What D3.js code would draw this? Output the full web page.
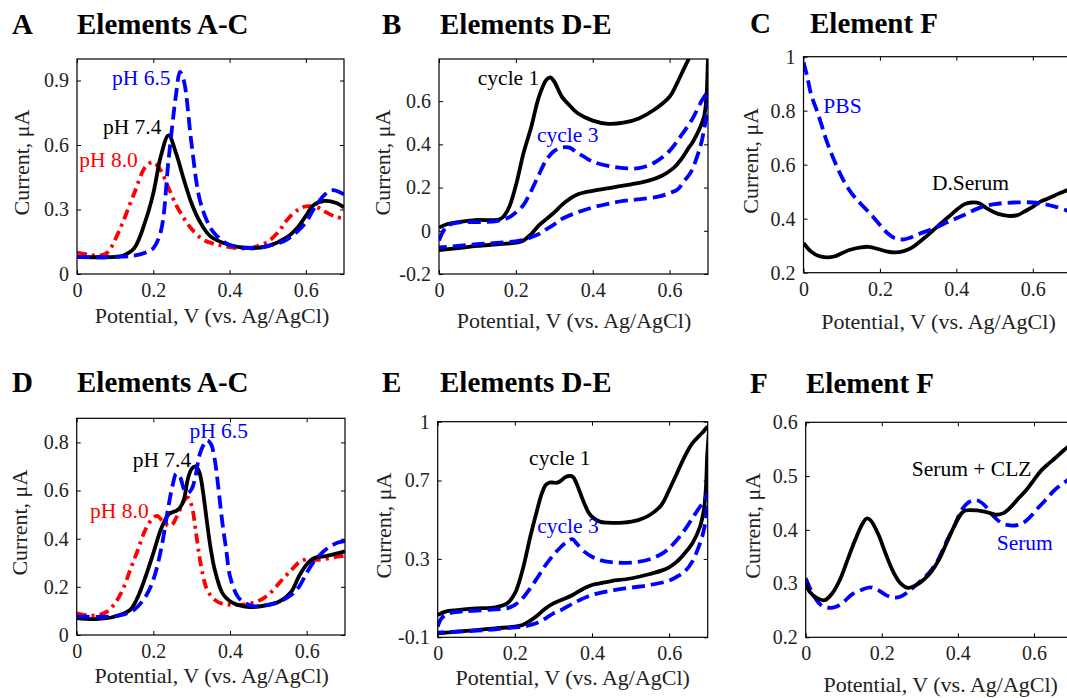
<!DOCTYPE html>
<html><head><meta charset="utf-8">
<script src="https://cdn.jsdelivr.net/npm/d3@7"></script>
</head>
<body style="margin:0">
<svg id="chart" width="1067" height="698"></svg>
<script>
// ---------- DATA (V, µA) ----------
const xTicks = [0, 0.2, 0.4, 0.6];

// Panel A
const A_pH65 = [[0,0.08],[0.05,0.078],[0.1,0.08],[0.15,0.085],[0.18,0.1],[0.2,0.12],[0.22,0.2],[0.24,0.53],[0.26,0.84],[0.27,0.94],[0.28,0.9],[0.3,0.61],[0.32,0.36],[0.34,0.25],[0.36,0.19],[0.4,0.135],[0.45,0.122],[0.5,0.13],[0.55,0.16],[0.6,0.24],[0.62,0.3],[0.65,0.37],[0.67,0.39],[0.7,0.37]];
const A_pH74 = [[0,0.08],[0.05,0.078],[0.1,0.08],[0.12,0.085],[0.15,0.12],[0.18,0.25],[0.2,0.375],[0.22,0.55],[0.24,0.645],[0.26,0.56],[0.28,0.44],[0.3,0.33],[0.32,0.25],[0.35,0.175],[0.4,0.135],[0.45,0.12],[0.5,0.13],[0.55,0.17],[0.58,0.22],[0.6,0.27],[0.62,0.32],[0.65,0.34],[0.68,0.33],[0.7,0.31]];
const A_pH80 = [[0,0.1],[0.03,0.09],[0.06,0.085],[0.08,0.1],[0.1,0.16],[0.12,0.24],[0.15,0.375],[0.18,0.5],[0.2,0.52],[0.22,0.48],[0.24,0.4],[0.26,0.32],[0.28,0.26],[0.3,0.21],[0.33,0.16],[0.36,0.14],[0.4,0.125],[0.45,0.12],[0.5,0.15],[0.53,0.2],[0.55,0.25],[0.58,0.3],[0.6,0.315],[0.63,0.31],[0.65,0.29],[0.68,0.265],[0.7,0.26]];

// Panel B (cyclic voltammograms: forward then reverse)
const B_cycle1 = [[0,0.015],[0.02,0.03],[0.05,0.04],[0.1,0.05],[0.16,0.055],[0.18,0.1],[0.2,0.21],[0.22,0.36],[0.24,0.48],[0.26,0.62],[0.28,0.7],[0.29,0.71],[0.3,0.69],[0.32,0.62],[0.34,0.58],[0.36,0.545],[0.4,0.51],[0.44,0.495],[0.48,0.5],[0.52,0.52],[0.56,0.56],[0.6,0.62],[0.62,0.685],[0.64,0.76],[0.66,0.83],[0.68,0.9],[0.7,0.97],
  [0.699,0.75],[0.696,0.62],[0.69,0.53],[0.68,0.48],[0.66,0.41],[0.65,0.385],[0.63,0.33],[0.61,0.29],[0.58,0.255],[0.53,0.225],[0.5,0.215],[0.45,0.2],[0.4,0.185],[0.36,0.168],[0.34,0.148],[0.32,0.12],[0.3,0.085],[0.28,0.055],[0.26,0.025],[0.24,-0.015],[0.22,-0.045],[0.2,-0.055],[0.15,-0.063],[0.1,-0.07],[0.05,-0.08],[0,-0.09]];
const B_cycle3 = [[0,-0.045],[0.02,0.02],[0.05,0.038],[0.1,0.04],[0.15,0.045],[0.18,0.06],[0.2,0.085],[0.22,0.12],[0.24,0.185],[0.26,0.26],[0.28,0.33],[0.3,0.37],[0.32,0.385],[0.34,0.385],[0.36,0.36],[0.38,0.34],[0.4,0.32],[0.44,0.3],[0.48,0.29],[0.52,0.29],[0.56,0.315],[0.6,0.37],[0.63,0.44],[0.66,0.52],[0.68,0.59],[0.69,0.62],[0.7,0.64],
  [0.698,0.56],[0.69,0.47],[0.68,0.39],[0.655,0.27],[0.64,0.235],[0.62,0.19],[0.6,0.175],[0.576,0.16],[0.524,0.146],[0.48,0.138],[0.44,0.125],[0.4,0.108],[0.36,0.085],[0.32,0.055],[0.3,0.03],[0.28,0.008],[0.26,-0.015],[0.24,-0.03],[0.21,-0.046],[0.15,-0.056],[0.1,-0.062],[0.05,-0.07],[0,-0.077]];

// Panel C
const C_PBS = [[0,0.98],[0.01,0.925],[0.02,0.86],[0.04,0.78],[0.06,0.69],[0.08,0.617],[0.1,0.555],[0.12,0.506],[0.14,0.47],[0.16,0.44],[0.18,0.41],[0.2,0.377],[0.22,0.346],[0.24,0.327],[0.26,0.323],[0.28,0.33],[0.3,0.342],[0.34,0.364],[0.38,0.389],[0.42,0.414],[0.46,0.44],[0.5,0.454],[0.55,0.46],[0.6,0.46],[0.63,0.454],[0.66,0.444],[0.69,0.43],[0.7,0.425]];
const C_DSerum = [[0,0.31],[0.02,0.278],[0.04,0.262],[0.06,0.257],[0.08,0.26],[0.1,0.272],[0.12,0.284],[0.15,0.294],[0.17,0.296],[0.2,0.286],[0.22,0.278],[0.24,0.275],[0.26,0.279],[0.28,0.29],[0.3,0.31],[0.32,0.333],[0.34,0.358],[0.36,0.383],[0.38,0.407],[0.4,0.432],[0.42,0.453],[0.44,0.46],[0.46,0.457],[0.48,0.438],[0.5,0.423],[0.52,0.414],[0.54,0.41],[0.56,0.413],[0.58,0.428],[0.6,0.444],[0.62,0.463],[0.64,0.475],[0.66,0.488],[0.68,0.5],[0.7,0.51]];

// Panel D
const D_pH65 = [[0,0.077],[0.05,0.075],[0.1,0.078],[0.12,0.084],[0.15,0.105],[0.18,0.16],[0.2,0.23],[0.22,0.355],[0.24,0.54],[0.25,0.62],[0.26,0.67],[0.27,0.655],[0.28,0.606],[0.29,0.59],[0.3,0.606],[0.31,0.66],[0.32,0.745],[0.33,0.787],[0.34,0.808],[0.35,0.794],[0.36,0.73],[0.37,0.606],[0.38,0.467],[0.39,0.355],[0.4,0.244],[0.42,0.16],[0.44,0.132],[0.46,0.12],[0.5,0.125],[0.53,0.139],[0.56,0.167],[0.58,0.2],[0.6,0.258],[0.62,0.307],[0.65,0.355],[0.68,0.383],[0.7,0.39]];
const D_pH74 = [[0,0.07],[0.05,0.066],[0.1,0.077],[0.14,0.105],[0.16,0.16],[0.18,0.244],[0.2,0.34],[0.22,0.44],[0.24,0.502],[0.25,0.51],[0.26,0.516],[0.27,0.53],[0.28,0.565],[0.29,0.648],[0.3,0.69],[0.31,0.7],[0.32,0.676],[0.33,0.59],[0.34,0.467],[0.35,0.355],[0.36,0.272],[0.38,0.174],[0.4,0.14],[0.42,0.125],[0.45,0.116],[0.5,0.125],[0.53,0.14],[0.56,0.18],[0.58,0.244],[0.6,0.293],[0.62,0.32],[0.65,0.328],[0.68,0.339],[0.7,0.348]];
const D_pH80 = [[0,0.09],[0.03,0.081],[0.06,0.084],[0.08,0.098],[0.1,0.132],[0.12,0.188],[0.14,0.272],[0.16,0.355],[0.18,0.44],[0.2,0.488],[0.21,0.495],[0.22,0.48],[0.23,0.467],[0.24,0.453],[0.25,0.46],[0.26,0.488],[0.27,0.523],[0.28,0.557],[0.29,0.571],[0.3,0.537],[0.31,0.44],[0.32,0.328],[0.33,0.244],[0.34,0.188],[0.36,0.146],[0.38,0.13],[0.4,0.125],[0.42,0.125],[0.45,0.13],[0.48,0.146],[0.5,0.167],[0.52,0.2],[0.54,0.237],[0.56,0.269],[0.58,0.302],[0.6,0.314],[0.62,0.311],[0.65,0.316],[0.68,0.325],[0.7,0.33]];

// Panel E (cyclic voltammograms: forward then reverse)
const E_cycle1 = [[0,0.014],[0.02,0.031],[0.05,0.039],[0.1,0.048],[0.15,0.053],[0.18,0.073],[0.2,0.124],[0.22,0.243],[0.24,0.413],[0.26,0.566],[0.27,0.634],[0.28,0.677],[0.29,0.69],[0.3,0.689],[0.31,0.689],[0.32,0.7],[0.33,0.716],[0.34,0.723],[0.35,0.72],[0.36,0.685],[0.37,0.634],[0.38,0.583],[0.39,0.541],[0.4,0.515],[0.42,0.49],[0.44,0.485],[0.48,0.485],[0.52,0.498],[0.55,0.524],[0.58,0.575],[0.6,0.651],[0.62,0.736],[0.64,0.821],[0.66,0.889],[0.68,0.932],[0.69,0.952],[0.7,0.974],
  [0.698,0.8],[0.695,0.65],[0.69,0.55],[0.68,0.464],[0.66,0.379],[0.64,0.328],[0.62,0.286],[0.6,0.257],[0.58,0.24],[0.55,0.223],[0.5,0.2],[0.45,0.187],[0.42,0.175],[0.4,0.167],[0.38,0.15],[0.35,0.116],[0.32,0.09],[0.3,0.073],[0.28,0.048],[0.26,0.014],[0.24,-0.015],[0.22,-0.037],[0.2,-0.046],[0.15,-0.054],[0.1,-0.063],[0.05,-0.071],[0,-0.08]];
const E_cycle3 = [[0,-0.046],[0.01,-0.003],[0.03,0.022],[0.06,0.031],[0.1,0.036],[0.15,0.043],[0.18,0.048],[0.2,0.065],[0.22,0.099],[0.24,0.15],[0.26,0.209],[0.28,0.269],[0.3,0.32],[0.32,0.362],[0.34,0.396],[0.35,0.4],[0.36,0.379],[0.38,0.337],[0.4,0.311],[0.42,0.294],[0.45,0.283],[0.5,0.281],[0.55,0.298],[0.58,0.325],[0.6,0.354],[0.62,0.396],[0.64,0.447],[0.66,0.507],[0.68,0.566],[0.69,0.592],[0.7,0.634],
  [0.698,0.55],[0.69,0.447],[0.68,0.379],[0.66,0.286],[0.64,0.235],[0.62,0.209],[0.6,0.189],[0.55,0.167],[0.5,0.153],[0.45,0.138],[0.4,0.116],[0.36,0.082],[0.32,0.039],[0.3,0.022],[0.28,-0.003],[0.26,-0.025],[0.24,-0.037],[0.22,-0.046],[0.2,-0.049],[0.15,-0.059],[0.1,-0.066],[0.05,-0.071],[0,-0.076]];

// Panel F
const F_SerumCLZ = [[0,0.3],[0.01,0.285],[0.03,0.273],[0.05,0.269],[0.07,0.282],[0.09,0.307],[0.11,0.344],[0.13,0.381],[0.15,0.412],[0.16,0.421],[0.17,0.418],[0.19,0.393],[0.21,0.356],[0.23,0.322],[0.25,0.3],[0.27,0.292],[0.29,0.297],[0.31,0.307],[0.33,0.322],[0.35,0.344],[0.37,0.375],[0.39,0.406],[0.41,0.431],[0.42,0.436],[0.45,0.436],[0.48,0.432],[0.5,0.428],[0.52,0.431],[0.54,0.443],[0.56,0.459],[0.58,0.474],[0.6,0.493],[0.62,0.511],[0.64,0.524],[0.66,0.536],[0.68,0.549],[0.7,0.56]];
const F_Serum = [[0,0.31],[0.02,0.279],[0.04,0.26],[0.06,0.255],[0.08,0.257],[0.1,0.266],[0.12,0.279],[0.15,0.289],[0.17,0.293],[0.19,0.288],[0.21,0.279],[0.23,0.274],[0.25,0.276],[0.27,0.285],[0.29,0.297],[0.31,0.31],[0.33,0.325],[0.35,0.347],[0.37,0.378],[0.39,0.406],[0.41,0.437],[0.43,0.452],[0.45,0.455],[0.47,0.446],[0.49,0.428],[0.51,0.415],[0.53,0.409],[0.55,0.408],[0.57,0.412],[0.59,0.424],[0.61,0.44],[0.63,0.455],[0.65,0.471],[0.67,0.483],[0.69,0.493],[0.7,0.5]];

// ---------- STYLE / LAYOUT ----------
const BLUE = "#0000ff", RED = "#ff0000", BLACK = "#000000";
const DASH = "13,6", DASHDOT = "10,5,3,5";
const FONT = "Liberation Serif";

const panels = [
  {letter:"A", title:"Elements A-C", lx:12, tx:77, ty:34, L:77, R:344, T:59, B:274, yd:[0,1], yt:[0,0.3,0.6,0.9],
   ylx:29, xlb:323,
   series:[{d:A_pH80,c:RED,dash:DASHDOT},{d:A_pH74,c:BLACK,dash:null},{d:A_pH65,c:BLUE,dash:DASH}],
   labels:[{t:"pH 6.5",x:0.092,y:0.88,c:BLUE},{t:"pH 7.4",x:0.068,y:0.65,c:BLACK},{t:"pH 8.0",x:0.006,y:0.50,c:RED}]},
  {letter:"B", title:"Elements D-E", lx:382, tx:440, ty:34, L:439, R:708, T:59, B:274, yd:[-0.2,0.795], yt:[-0.2,0,0.2,0.4,0.6],
   ylx:390, xlb:328,
   series:[{d:B_cycle1,c:BLACK,dash:null},{d:B_cycle3,c:BLUE,dash:DASH}],
   labels:[{t:"cycle 1",x:0.101,y:0.676,c:BLACK},{t:"cycle 3",x:0.255,y:0.41,c:BLUE}]},
  {letter:"C", title:"Element F", lx:750, tx:810, ty:33, L:803.5, R:1071, T:56.7, B:272.7, yd:[0.2,1], yt:[0.2,0.4,0.6,0.8,1],
   ylx:758, xlb:329,
   series:[{d:C_DSerum,c:BLACK,dash:null},{d:C_PBS,c:BLUE,dash:DASH}],
   labels:[{t:"PBS",x:0.052,y:0.791,c:BLUE},{t:"D.Serum",x:0.336,y:0.506,c:BLACK}]},
  {letter:"D", title:"Elements A-C", lx:12, tx:77, ty:392, L:76.7, R:345, T:418.3, B:635, yd:[0,0.9], yt:[0,0.2,0.4,0.6,0.8],
   ylx:27, xlb:683,
   series:[{d:D_pH80,c:RED,dash:DASHDOT},{d:D_pH74,c:BLACK,dash:null},{d:D_pH65,c:BLUE,dash:DASH}],
   labels:[{t:"pH 6.5",x:0.294,y:0.818,c:BLUE},{t:"pH 7.4",x:0.146,y:0.699,c:BLACK},{t:"pH 8.0",x:0.035,y:0.486,c:RED}]},
  {letter:"E", title:"Elements D-E", lx:382, tx:440, ty:392, L:437.7, R:707.7, T:421.7, B:637.3, yd:[-0.1,1], yt:[-0.1,0.3,0.7,1],
   ylx:391, xlb:685,
   series:[{d:E_cycle1,c:BLACK,dash:null},{d:E_cycle3,c:BLUE,dash:DASH}],
   labels:[{t:"cycle 1",x:0.237,y:0.779,c:BLACK},{t:"cycle 3",x:0.258,y:0.434,c:BLUE}]},
  {letter:"F", title:"Element F", lx:750, tx:806, ty:393, L:805.7, R:1072, T:422.3, B:637.3, yd:[0.2,0.6], yt:[0.2,0.3,0.4,0.5,0.6],
   ylx:760, xlb:692,
   series:[{d:F_Serum,c:BLUE,dash:DASH},{d:F_SerumCLZ,c:BLACK,dash:null}],
   labels:[{t:"Serum + CLZ",x:0.279,y:0.5,c:BLACK},{t:"Serum",x:0.502,y:0.362,c:BLUE}]}
];

const fmt = d => String(+d.toFixed(2));
const svg = d3.select("#chart");
const txt = (sel) => sel.style("font-family", FONT).attr("font-family", FONT);

panels.forEach((p, i) => {
  const x = d3.scaleLinear().domain([0, 0.7]).range([p.L, p.R]);
  const y = d3.scaleLinear().domain(p.yd).range([p.B, p.T]);

  // clip
  const cid = "clip" + i;
  svg.append("clipPath").attr("id", cid)
    .append("rect").attr("x", p.L).attr("y", p.T).attr("width", p.R - p.L).attr("height", p.B - p.T);

  // titles
  svg.append("text").attr("x", p.lx).attr("y", p.ty).attr("font-size", 29).attr("font-weight", "bold")
    .attr("fill", "#000").call(txt).text(p.letter);
  svg.append("text").attr("x", p.tx).attr("y", p.ty).attr("font-size", 29).attr("font-weight", "bold")
    .attr("fill", "#000").call(txt).text(p.title);

  // curves
  const line = d3.line().x(d => x(d[0])).y(d => y(d[1])).curve(d3.curveCatmullRom.alpha(0.5));
  const cg = svg.append("g").attr("clip-path", `url(#${cid})`);
  p.series.forEach(s => {
    cg.append("path").attr("d", line(s.d)).attr("fill", "none")
      .attr("stroke", s.c).attr("stroke-width", 3.8)
      .attr("stroke-dasharray", s.dash).attr("stroke-linejoin", "round");
  });

  // axes (inward ticks, box)
  const axB = d3.axisBottom(x).tickValues(xTicks).tickSize(-4).tickPadding(9).tickFormat(fmt);
  const axT = d3.axisTop(x).tickValues(xTicks).tickSize(-4).tickFormat("");
  const axL = d3.axisLeft(y).tickValues(p.yt).tickSize(-4).tickPadding(8).tickFormat(fmt);
  const axR = d3.axisRight(y).tickValues(p.yt).tickSize(-4).tickFormat("");
  const styleAxis = sel => {
    sel.attr("font-family", FONT).style("font-family", FONT).attr("font-size", 20);
    sel.selectAll(".domain").remove();
    sel.selectAll("line").attr("stroke", "#000").attr("stroke-width", 1);
    sel.selectAll("text").call(txt).attr("font-size", 20).attr("fill", "#222");
  };
  svg.append("g").attr("transform", `translate(0,${p.B})`).call(axB).call(styleAxis);
  svg.append("g").attr("transform", `translate(0,${p.T})`).call(axT).call(styleAxis);
  svg.append("g").attr("transform", `translate(${p.L},0)`).call(axL).call(styleAxis);
  svg.append("g").attr("transform", `translate(${p.R},0)`).call(axR).call(styleAxis);

  // frame
  svg.append("rect").attr("x", p.L).attr("y", p.T).attr("width", p.R - p.L).attr("height", p.B - p.T)
    .attr("fill", "none").attr("stroke", "#000").attr("stroke-width", 1.2);

  // annotations
  p.labels.forEach(l => {
    svg.append("text").attr("x", x(l.x)).attr("y", y(l.y)).attr("font-size", 21.5)
      .attr("fill", l.c).call(txt).text(l.t);
  });

  // axis labels
  svg.append("text").attr("x", p.L + 135).attr("y", p.xlb).attr("text-anchor", "middle")
    .attr("font-size", 22).attr("fill", "#222").call(txt).text("Potential, V (vs. Ag/AgCl)");
  const yc = (p.T + p.B) / 2 - 4;
  svg.append("text").attr("transform", `translate(${p.ylx},${yc}) rotate(-90)`)
    .attr("text-anchor", "middle").attr("font-size", 22).attr("fill", "#222").call(txt).text("Current, μA");
});
</script>
</body></html>
